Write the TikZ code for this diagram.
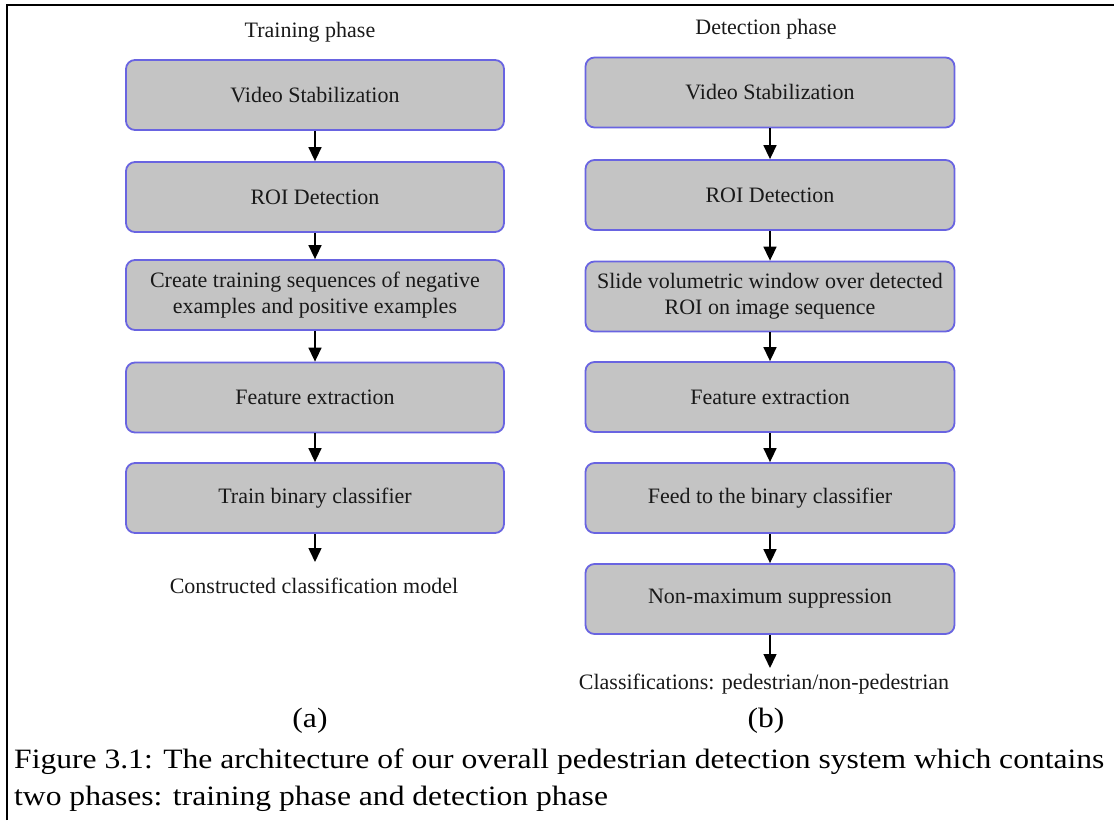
\documentclass[tikz,border=0pt]{standalone}
\usepackage{fontspec}
\usepackage{graphicx}
\setmainfont{Liberation Serif}
\usetikzlibrary{arrows.meta}
\definecolor{boxblue}{RGB}{105,100,225}
\definecolor{boxgray}{RGB}{196,196,196}
\definecolor{textdark}{RGB}{25,25,25}
\newcommand{\capwide}[1]{\scalebox{1.128}[1]{#1}}
\begin{document}
\begin{tikzpicture}[x=1pt,y=-1pt,
  box/.style={draw=boxblue, line width=1.8pt, fill=boxgray, rounded corners=9pt,
    minimum height=70pt, align=center, inner sep=0pt,
    font=\fontsize{22}{26}\selectfont, text=textdark},
  lbox/.style={box, minimum width=378pt},
  rbox/.style={box, minimum width=369pt},
  flow/.style={-{Triangle[width=13pt,length=14pt]}, line width=1.5pt, black},
  lbl/.style={font=\fontsize{22}{26}\selectfont, text=textdark, inner sep=0pt},
  captext/.style={font=\fontsize{28}{37}\selectfont, inner sep=0pt}]
\useasboundingbox (0,0) rectangle (1114,820);
\draw[line width=2pt] (7,820) -- (7,5) -- (1114,5);

% Training phase
\node[lbl] (tt) at (310,32) {Training phase};
\node[lbox] (a1) at (315,95) {Video Stabilization};
\node[lbox] (a2) at (315,197) {ROI Detection};
\node[lbox] (a3) at (315,295) {Create training sequences of negative\\examples and positive examples};
\node[lbox] (a4) at (315,397.5) {Feature extraction};
\node[lbox] (a5) at (315,498) {Train binary classifier};
\coordinate (aend) at (315,562);
\node[lbl] (aout) at (314,586) {Constructed classification model};
\draw[flow] (a1) -- (a2);
\draw[flow] (a2) -- (a3);
\draw[flow] (a3) -- (a4);
\draw[flow] (a4) -- (a5);
\draw[flow] (a5) -- (aend);

% Detection phase
\node[lbl] (dt) at (766,29) {Detection phase};
\node[rbox] (b1) at (770,92.5) {Video Stabilization};
\node[rbox] (b2) at (770,195) {ROI Detection};
\node[rbox] (b3) at (770,296.5) {Slide volumetric window over detected\\ROI on image sequence};
\node[rbox] (b4) at (770,397) {Feature extraction};
\node[rbox] (b5) at (770,498) {Feed to the binary classifier};
\node[rbox] (b6) at (770,599) {Non-maximum suppression};
\coordinate (bend) at (770,668);
\node[lbl] (bout) at (764,684) {Classifications: pedestrian/non-pedestrian};
\draw[flow] (b1) -- (b2);
\draw[flow] (b2) -- (b3);
\draw[flow] (b3) -- (b4);
\draw[flow] (b4) -- (b5);
\draw[flow] (b5) -- (b6);
\draw[flow] (b6) -- (bend);

% Caption
\node[captext] (pa) at (310,721) {\capwide{(a)}};
\node[captext] (pb) at (766,721) {\capwide{(b)}};
\node[captext, anchor=west] (c1) at (14,762) {\capwide{Figure 3.1: The architecture of our overall pedestrian detection system which contains}};
\node[captext, anchor=west] (c2) at (14,799) {\capwide{two phases: training phase and detection phase}};
\end{tikzpicture}
\end{document}
